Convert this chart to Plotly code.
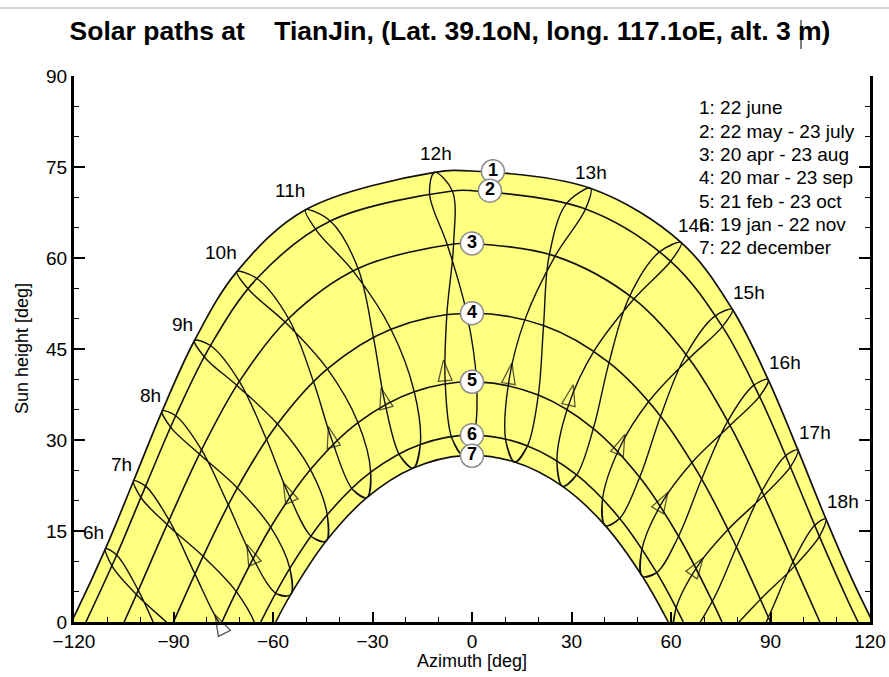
import plotly.graph_objects as go

# Legal-time hours drawn as hour loops
hours = [6, 7, 8, 9, 10, 11, 12, 13, 14, 15, 16, 17, 18]

# Sun azimuth / height [deg] at each legal hour (6h ... 18h) for the reference dates
az_dec22 = [-72.79, -64.13, -54.69, -43.99, -31.71, -17.73, -2.53, 12.85, 27.31, 40.18, 51.35, 61.15, 70.02]
h_dec22 = [-16.34, -5.52, 4.50, 13.34, 20.49, 25.37, 27.43, 26.37, 22.36, 15.89, 7.54, -2.14, -12.74]
az_jan19 = [-77.14, -68.34, -58.90, -48.27, -35.98, -21.80, -6.06, 10.19, 25.60, 39.30, 51.14, 61.41, 70.63]
h_jan19 = [-16.90, -5.79, 4.63, 14.00, 21.82, 27.46, 30.27, 29.85, 26.25, 20.00, 11.73, 2.05, -8.58]
az_feb21 = [-85.60, -76.26, -66.42, -55.29, -42.14, -26.35, -8.11, 11.07, 29.00, 44.36, 57.14, 68.01, 77.73]
h_feb21 = [-11.61, -0.13, 10.89, 21.06, 29.82, 36.39, 39.86, 39.55, 35.55, 28.57, 19.55, 9.22, -1.89]
az_mar20 = [-93.04, -83.52, -73.47, -61.94, -47.78, -29.72, -7.59, 15.92, 36.73, 53.27, 66.33, 77.21, 86.96]
h_mar20 = [-3.73, 7.90, 19.30, 30.07, 39.59, 46.90, 50.66, 49.80, 44.60, 36.35, 26.29, 15.24, 3.73]
az_apr20 = [-100.60, -91.33, -81.54, -70.15, -55.31, -34.35, -5.55, 25.05, 48.81, 65.43, 77.79, 88.00, 97.35]
h_apr20 = [5.22, 16.78, 28.38, 39.66, 50.03, 58.28, 62.32, 60.31, 53.25, 43.44, 32.40, 20.87, 9.25]
az_may22 = [-107.13, -98.41, -89.34, -78.85, -64.86, -42.72, -5.93, 34.24, 59.90, 75.49, 86.68, 96.00, 104.74]
h_may22 = [11.05, 22.40, 34.00, 45.57, 56.62, 66.10, 71.05, 68.08, 59.46, 48.68, 37.18, 25.56, 14.11]
az_jun22 = [-110.50, -102.05, -93.42, -83.67, -70.90, -50.20, -11.30, 35.70, 63.10, 78.50, 89.30, 98.27, 106.70]
h_jun22 = [12.08, 23.25, 34.77, 46.40, 57.75, 67.94, 74.10, 71.49, 62.55, 51.54, 39.96, 28.36, 17.01]
az_jul23 = [-108.42, -99.66, -90.69, -80.51, -67.27, -46.92, -12.78, 28.35, 56.33, 73.11, 84.81, 94.36, 103.15]
h_jul23 = [9.11, 20.40, 31.99, 43.57, 54.76, 64.57, 70.51, 68.87, 60.93, 50.38, 38.96, 27.33, 15.84]
az_aug23 = [-100.89, -91.63, -81.87, -70.56, -55.99, -35.52, -7.30, 23.23, 47.36, 64.30, 76.87, 87.19, 96.58]
h_aug23 = [4.36, 15.92, 27.53, 38.83, 49.24, 57.62, 61.95, 60.30, 53.50, 43.85, 32.87, 21.35, 9.72]
az_sep23 = [-90.63, -81.07, -70.73, -58.65, -43.61, -24.44, -1.59, 21.57, 41.31, 56.86, 69.25, 79.75, 89.37]
h_sep23 = [-0.78, 10.82, 22.10, 32.63, 41.71, 48.26, 50.89, 48.86, 42.75, 33.93, 23.56, 12.35, 0.78]
az_oct23 = [-80.52, -71.06, -60.71, -48.71, -34.37, -17.41, 1.37, 20.00, 36.59, 50.56, 62.28, 72.46, 81.85]
h_oct23 = [-6.27, 5.00, 15.62, 25.12, 32.86, 37.95, 39.58, 37.41, 31.89, 23.85, 14.14, 3.41, -7.93]
az_nov22 = [-73.82, -64.82, -54.93, -43.65, -30.54, -15.58, 0.60, 16.74, 31.57, 44.53, 55.70, 65.50, 74.47]
h_nov22 = [-12.11, -1.23, 8.84, 17.67, 24.70, 29.27, 30.80, 29.03, 24.26, 17.07, 8.13, -2.01, -12.93]

# Extra points outside 6h..18h on the long summer days (5h / 19h)
az_jun22_edge = [-119.40, 115.35]
h_jun22_edge = [1.53, 6.15]
az_may22_edge = [113.65]
h_may22_edge = [3.13]

# Sunrise / sunset azimuth and noon height of the 7 numbered paths
rise_az = [120.83, 116.41, 104.89, 90.00, 75.38, 63.71, 59.17]
noon_h = [74.34, 71.10, 62.40, 50.90, 39.60, 30.80, 27.44]

# Direction arrows on the hour loops (tip position)
arrow_hours = [7, 8, 9, 10, 11, 12, 13, 14, 15, 16, 17]
arrow_az = [-77.5, -67.9, -56.9, -43.3, -27.4, -8.6, 12.0, 30.5, 46.1, 59.1, 69.7]
arrow_h = [1.2, 12.8, 23.0, 32.2, 38.6, 43.2, 42.7, 39.1, 30.9, 21.4, 10.6]

# Numbered markers on each path
mark_num = ["1", "2", "3", "4", "5", "6", "7"]
mark_az = [6.3, 5.4, 0.0, 0.0, 0.0, 0.0, 0.0]
mark_h = [74.3, 71.1, 62.4, 50.9, 39.6, 30.8, 27.4]

legend_lines = [
    "1: 22 june",
    "2: 22 may - 23 july",
    "3: 20 apr - 23 aug",
    "4: 20 mar - 23 sep",
    "5: 21 feb - 23 oct",
    "6: 19 jan - 22 nov",
    "7: 22 december",
]

title_text = ("Solar paths at\u00a0\u00a0\u00a0\u00a0TianJin, (Lat. 39.1oN, long. 117.1oE, "
              "alt. 3 m)")

x_ticks = [-120, -90, -60, -30, 0, 30, 60, 90, 120]
y_ticks = [0, 15, 30, 45, 60, 75, 90]

# ---------------------------------------------------------------------------
FONT = "Arial, 'Liberation Sans', sans-serif"
INK = "#111111"

path_series = [
    (az_jun22, h_jun22, az_jun22_edge, h_jun22_edge),
    (az_may22, h_may22, az_may22_edge, h_may22_edge),
    (az_apr20, h_apr20, [], []),
    (az_sep23, h_sep23, [], []),
    (az_oct23, h_oct23, [], []),
    (az_nov22, h_nov22, [], []),
    (az_dec22, h_dec22, [], []),
]


def sun_path(k):
    az_d, h_d, az_e, h_e = path_series[k]
    pts = [(a, h) for a, h in zip(az_d, h_d) if h > 0]
    pts += list(zip(az_e, h_e))
    if min(abs(a) for a, _ in pts) > 3:
        pts.append((0.0, noon_h[k]))
    pts += [(-rise_az[k], 0.0), (rise_az[k], 0.0)]
    pts.sort()
    return [p[0] for p in pts], [p[1] for p in pts]


fig = go.Figure()

paths = [sun_path(k) for k in range(7)]

# yellow band: fill under the 22 june path, then white under the 22 december path
fig.add_trace(go.Scatter(x=paths[0][0], y=paths[0][1], mode="lines",
                         line=dict(color=INK, width=1.7, shape="spline"),
                         fill="tozeroy", fillcolor="#FFFF80", hoverinfo="skip"))
fig.add_trace(go.Scatter(x=paths[6][0], y=paths[6][1], mode="lines",
                         line=dict(color=INK, width=1.6, shape="spline"),
                         fill="tozeroy", fillcolor="white", hoverinfo="skip"))
for k in range(1, 6):
    fig.add_trace(go.Scatter(x=paths[k][0], y=paths[k][1], mode="lines",
                             line=dict(color=INK, width=1.6, shape="spline"),
                             hoverinfo="skip"))

# hour loops, walked through the year (wrapping to close the loop smoothly)
year_order = [
    (az_nov22, h_nov22), (az_dec22, h_dec22), (az_jan19, h_jan19), (az_feb21, h_feb21),
    (az_mar20, h_mar20), (az_apr20, h_apr20), (az_may22, h_may22), (az_jun22, h_jun22),
    (az_jul23, h_jul23), (az_aug23, h_aug23), (az_sep23, h_sep23), (az_oct23, h_oct23),
    (az_nov22, h_nov22), (az_dec22, h_dec22), (az_jan19, h_jan19),
]
for i, t in enumerate(hours):
    fig.add_trace(go.Scatter(x=[a[i] for a, _ in year_order],
                             y=[h[i] for _, h in year_order],
                             mode="lines",
                             line=dict(color=INK, width=1.4, shape="spline"),
                             hoverinfo="skip"))

# direction arrows, oriented from the 21 feb point towards the tip
ax_pts, ay_pts, a_size = [], [], []
for t, a, h in zip(arrow_hours, arrow_az, arrow_h):
    i = hours.index(t)
    ax_pts += [az_feb21[i], a]
    ay_pts += [h_feb21[i], h]
    a_size += [0, 22]
fig.add_trace(go.Scatter(x=ax_pts, y=ay_pts, mode="markers", cliponaxis=False,
                         marker=dict(symbol="arrow-open", size=a_size, angleref="previous",
                                     color=INK, line=dict(color=INK, width=1.3)),
                         hoverinfo="skip"))

# numbered path markers
fig.add_trace(go.Scatter(x=mark_az, y=mark_h, mode="markers+text", text=mark_num,
                         textposition="middle center",
                         textfont=dict(family=FONT, size=18, color="black", weight="bold"),
                         marker=dict(symbol="circle", size=23, color="white",
                                     line=dict(color="#8a8a8a", width=1.5)),
                         hoverinfo="skip", cliponaxis=False))


# hour labels next to the top (22 june) end of each loop
def label_shift(t):
    if t <= 9:
        return -12, 16
    if t <= 11:
        return -16, 19
    if t == 12:
        return 1, 19
    if t == 13:
        return 1, 16
    if t == 14:
        return 13, 17
    return 17, 17


for i, t in enumerate(hours):
    dx, dy = label_shift(t)
    fig.add_annotation(x=az_jun22[i], y=h_jun22[i], text=f"{t}h", showarrow=False,
                       xshift=dx, yshift=dy, font=dict(family=FONT, size=19, color="black"))

# date legend, top right
for j, line in enumerate(legend_lines):
    fig.add_annotation(xref="paper", yref="paper", x=0.7827, y=0.9414 - j * 0.04264,
                       xanchor="left", yanchor="middle", text=line, showarrow=False,
                       font=dict(family=FONT, size=19, color="black"))

# axis titles
fig.add_annotation(xref="paper", yref="paper", x=0.5, y=-0.0723, text="Azimuth [deg]",
                   showarrow=False, xanchor="center", yanchor="middle",
                   font=dict(family=FONT, size=18, color="black"))
fig.add_annotation(xref="paper", yref="paper", x=-0.0653, y=0.5, text="Sun height [deg]",
                   textangle=-90, showarrow=False, xanchor="center", yanchor="middle",
                   font=dict(family=FONT, size=18, color="black"))

# text cursor in the title and the window edge line
fig.add_shape(type="line", xref="paper", yref="paper", x0=(801 - 74) / 796, x1=(801 - 74) / 796,
              y0=(622.5 - 20) / 546.5, y1=(622.5 - 49) / 546.5,
              line=dict(color="black", width=1))
fig.add_shape(type="line", xref="paper", yref="paper", x0=-74 / 796, x1=(889 - 74) / 796,
              y0=(622.5 - 8) / 546.5, y1=(622.5 - 8) / 546.5,
              line=dict(color="#c4c4c4", width=1.5))

fig.update_layout(
    width=889, height=677, autosize=False,
    margin=dict(l=74, r=19, t=76, b=55, autoexpand=False),
    paper_bgcolor="white", plot_bgcolor="white",
    showlegend=False,
    font=dict(family=FONT, size=19, color="black"),
    title=dict(text=f"<b>{title_text}</b>", xref="paper", x=(450 - 74) / 796, xanchor="center",
               yref="container", y=1 - 31 / 677, yanchor="middle", automargin=False,
               font=dict(family=FONT, size=26.5, color="black")),
    xaxis=dict(range=[-120, 120], tickvals=x_ticks, ticks="inside", ticklen=10, tickwidth=1.5,
               tickcolor="black", showline=True, linewidth=3, linecolor="black",
               showgrid=False, zeroline=False, tickfont=dict(size=19), automargin=False,
               minor=dict(dtick=10, ticks="inside", ticklen=5, tickwidth=1.2, tickcolor="black",
                          showgrid=False)),
    yaxis=dict(range=[0, 90], tickvals=y_ticks, ticks="inside", ticklen=11, tickwidth=1.5,
               tickcolor="black", showline=True, linewidth=3, linecolor="black",
               mirror="ticks", showgrid=False, zeroline=False, tickfont=dict(size=19),
               automargin=False,
               minor=dict(dtick=5, ticks="inside", ticklen=5, tickwidth=1.2, tickcolor="black",
                          showgrid=False)),
)

fig.write_html("out.html")
